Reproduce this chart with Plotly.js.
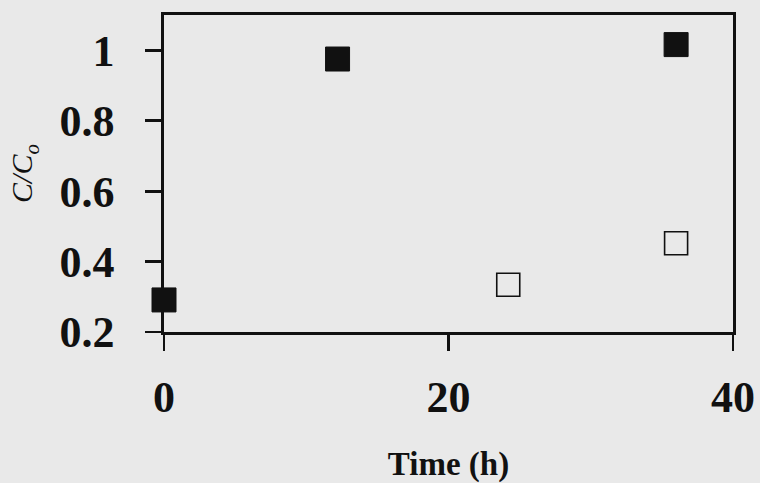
<!DOCTYPE html>
<html>
<head>
<meta charset="utf-8">
<script src="https://cdn.plot.ly/plotly-3.0.1.min.js"></script>
<style>html,body{margin:0;padding:0;background:#e9e9e9;}</style>
</head>
<body>
<div id="chart" style="width:760px;height:483px;"></div>
<script>
// Data
const filledTime = [0, 12.2, 36.0];
const filledRatio = [0.291, 0.975, 1.016];
const openTime = [24.2, 36.0];
const openRatio = [0.334, 0.452];
const xTicks = [0, 20, 40];
const yTicks = [0.2, 0.4, 0.6, 0.8, 1];
const yTickLabels = ['0.2', '0.4', '0.6', '0.8', '1'];

const tickFont = {family: 'Liberation Serif, Times New Roman, serif', size: 44, color: '#111', weight: 'bold'};

const traces = [
  {
    x: filledTime, y: filledRatio, type: 'scatter', mode: 'markers', cliponaxis: false,
    marker: {symbol: 'square', size: 24, color: '#111', line: {color: '#111', width: 1}},
    showlegend: false
  },
  {
    x: openTime, y: openRatio, type: 'scatter', mode: 'markers', cliponaxis: false,
    marker: {symbol: 'square-open', size: 23, color: '#111', line: {color: '#111', width: 1.6}},
    showlegend: false
  }
];

const layout = {
  width: 760, height: 483,
  margin: {l: 164, r: 27, t: 15, b: 151},
  paper_bgcolor: '#e9e9e9',
  plot_bgcolor: '#e9e9e9',
  xaxis: {
    range: [0, 40], tickvals: xTicks, ticktext: xTicks.map(String),
    ticks: 'outside', ticklen: 16, tickwidth: 2.8, tickcolor: '#111',
    showline: true, linewidth: 2.8, linecolor: '#111', mirror: true,
    showgrid: false, zeroline: false, tickfont: tickFont, ticklabelstandoff: 8,
    title: {text: 'Time (h)', standoff: 44,
      font: {family: 'Liberation Serif, Times New Roman, serif', size: 33, color: '#111', weight: 'bold'}}
  },
  yaxis: {
    range: [0.2, 1.1], tickvals: yTicks, ticktext: yTickLabels,
    ticks: 'outside', ticklen: 16, tickwidth: 2.8, tickcolor: '#111',
    showline: true, linewidth: 2.8, linecolor: '#111', mirror: true,
    showgrid: false, zeroline: false, tickfont: tickFont, ticklabelstandoff: 22,
    title: {text: 'C/C<sub>o</sub>', standoff: 18,
      font: {family: 'Liberation Serif, Times New Roman, serif', size: 30, color: '#111', style: 'italic'}}
  }
};

Plotly.newPlot('chart', traces, layout, {displayModeBar: false, staticPlot: true});
</script>
</body>
</html>
